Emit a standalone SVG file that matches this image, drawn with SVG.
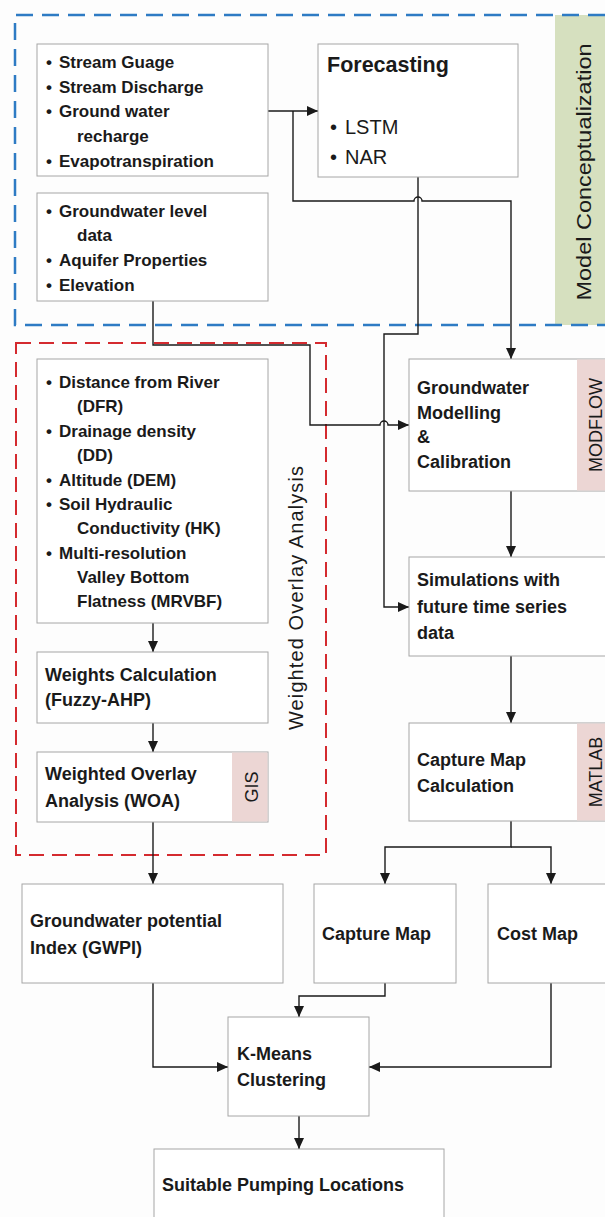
<svg xmlns="http://www.w3.org/2000/svg" width="605" height="1217" viewBox="0 0 605 1217">
<style>
.box{fill:#fff;stroke:#a6a6a6;stroke-width:1}
.t{font-family:"Liberation Sans",Arial,sans-serif;font-weight:bold;font-size:17px;fill:#1a1a1a}
.h{font-size:18px}
.r{font-family:"Liberation Sans",Arial,sans-serif;font-weight:normal;fill:#1a1a1a}
.tag{font-family:"Liberation Sans",Arial,sans-serif;font-size:18px;fill:#1a1a1a}
.conn{fill:none;stroke:#1a1a1a;stroke-width:1.4}
.arr{marker-end:url(#ah)}
</style>
<defs>
<marker id="ah" markerUnits="userSpaceOnUse" markerWidth="11" markerHeight="10" refX="11" refY="5" orient="auto" viewBox="0 0 11 10">
<path d="M0,0 L11,5 L0,10 z" fill="#1a1a1a"/>
</marker>
</defs>
<rect width="605" height="1217" fill="#fdfdfd"/>

<g id="model-conceptualization">
<rect x="555" y="15" width="50" height="310" fill="#d6e0bf"/>
<path d="M605,15 H15 V325 H605" fill="none" stroke="#2e7bc4" stroke-width="2.5" stroke-dasharray="17 9"/>
<text class="tag" style="font-size:21px" transform="translate(591,172) rotate(-90)" text-anchor="middle" textLength="257" lengthAdjust="spacingAndGlyphs">Model Conceptualization</text>
</g>

<g id="weighted-overlay-group">
<rect x="16" y="343" width="310" height="512" fill="none" stroke="#d42a2f" stroke-width="2" stroke-dasharray="15 8"/>
<text class="tag" style="font-size:20px" transform="translate(303,598) rotate(-90)" text-anchor="middle" textLength="264" lengthAdjust="spacing">Weighted Overlay Analysis</text>
</g>

<g id="connectors">
<path class="conn arr" d="M268,111 H318"/>
<path class="conn arr" d="M293,111 V201 H414 A4,4 0 0 1 422,201 H511 V359"/>
<path class="conn arr" d="M418,177 V334 H384 V607 H409"/>
<path class="conn arr" d="M153,301 V345 H310 V425 H380 A4,4 0 0 1 388,425 H409"/>
<path class="conn arr" d="M153,623 V652"/>
<path class="conn arr" d="M153,723 V752"/>
<path class="conn arr" d="M153,822 V884"/>
<path class="conn arr" d="M511,491 V557"/>
<path class="conn arr" d="M511,656 V723"/>
<path class="conn arr" d="M511,821 V847 H385 V884"/>
<path class="conn arr" d="M511,847 H551 V884"/>
<path class="conn arr" d="M153,983 V1067 H228"/>
<path class="conn arr" d="M385,983 V996 H299 V1017"/>
<path class="conn arr" d="M551,983 V1067 H369"/>
<path class="conn arr" d="M299,1116 V1149"/>
</g>

<g id="stream-data">
<rect class="box" x="37" y="44" width="231" height="132"/>
<text class="t"><tspan x="46" y="68">•</tspan><tspan x="59" y="68">Stream Guage</tspan><tspan x="46" y="93">•</tspan><tspan x="59" y="93">Stream Discharge</tspan><tspan x="46" y="117">•</tspan><tspan x="59" y="117">Ground water</tspan><tspan x="77" y="142">recharge</tspan><tspan x="46" y="167">•</tspan><tspan x="59" y="167">Evapotranspiration</tspan></text>
</g>

<g id="groundwater-data">
<rect class="box" x="37" y="193" width="231" height="108"/>
<text class="t"><tspan x="46" y="217">•</tspan><tspan x="59" y="217">Groundwater level</tspan><tspan x="77" y="241">data</tspan><tspan x="46" y="266">•</tspan><tspan x="59" y="266">Aquifer Properties</tspan><tspan x="46" y="291">•</tspan><tspan x="59" y="291">Elevation</tspan></text>
</g>

<g id="forecasting">
<rect class="box" x="318" y="44" width="200" height="133"/>
<text class="t" x="327" y="72" style="font-size:21.5px">Forecasting</text>
<text class="r" style="font-size:20px"><tspan x="330" y="134">•</tspan><tspan x="345" y="134">LSTM</tspan><tspan x="330" y="164">•</tspan><tspan x="345" y="164">NAR</tspan></text>
</g>

<g id="factors">
<rect class="box" x="37" y="359" width="231" height="264"/>
<text class="t"><tspan x="46" y="388">•</tspan><tspan x="59" y="388">Distance from River</tspan><tspan x="77" y="412">(DFR)</tspan><tspan x="46" y="437">•</tspan><tspan x="59" y="437">Drainage density</tspan><tspan x="77" y="461">(DD)</tspan><tspan x="46" y="486">•</tspan><tspan x="59" y="486">Altitude (DEM)</tspan><tspan x="46" y="510">•</tspan><tspan x="59" y="510">Soil Hydraulic</tspan><tspan x="77" y="534">Conductivity (HK)</tspan><tspan x="46" y="559">•</tspan><tspan x="59" y="559">Multi-resolution</tspan><tspan x="77" y="583">Valley Bottom</tspan><tspan x="77" y="607">Flatness (MRVBF)</tspan></text>
</g>

<g id="weights-calculation">
<rect class="box" x="37" y="652" width="231" height="71"/>
<text class="t h"><tspan x="45" y="681">Weights Calculation</tspan><tspan x="45" y="706">(Fuzzy-AHP)</tspan></text>
</g>

<g id="woa">
<rect class="box" x="37" y="752" width="231" height="70"/>
<rect x="232" y="752.5" width="35.5" height="69" fill="#ecd6d4"/>
<text class="t h"><tspan x="45" y="780">Weighted Overlay</tspan><tspan x="45" y="807">Analysis (WOA)</tspan></text>
<text class="tag" transform="translate(258,787) rotate(-90)" text-anchor="middle">GIS</text>
</g>

<g id="groundwater-modelling">
<rect class="box" x="409" y="359" width="197" height="132"/>
<rect x="577" y="359.5" width="28" height="131" fill="#ecd6d4"/>
<text class="t h"><tspan x="417" y="394">Groundwater</tspan><tspan x="417" y="419">Modelling</tspan><tspan x="417" y="443">&amp;</tspan><tspan x="417" y="468">Calibration</tspan></text>
<text class="tag" transform="translate(602,425) rotate(-90)" text-anchor="middle">MODFLOW</text>
</g>

<g id="simulations">
<rect class="box" x="409" y="557" width="197" height="99"/>
<text class="t h"><tspan x="417" y="586">Simulations with</tspan><tspan x="417" y="613">future time series</tspan><tspan x="417" y="639">data</tspan></text>
</g>

<g id="capture-map-calculation">
<rect class="box" x="409" y="723" width="197" height="98"/>
<rect x="577" y="723.5" width="28" height="97" fill="#ecd6d4"/>
<text class="t h"><tspan x="417" y="766">Capture Map</tspan><tspan x="417" y="792">Calculation</tspan></text>
<text class="tag" transform="translate(602,772) rotate(-90)" text-anchor="middle">MATLAB</text>
</g>

<g id="gwpi">
<rect class="box" x="22" y="884" width="261" height="99"/>
<text class="t h"><tspan x="30" y="927">Groundwater potential</tspan><tspan x="30" y="954">Index (GWPI)</tspan></text>
</g>

<g id="capture-map">
<rect class="box" x="314" y="884" width="142" height="99"/>
<text class="t h" x="322" y="940">Capture Map</text>
</g>

<g id="cost-map">
<rect class="box" x="488" y="884" width="120" height="99"/>
<text class="t h" x="497" y="940">Cost Map</text>
</g>

<g id="k-means">
<rect class="box" x="228" y="1017" width="141" height="99"/>
<text class="t h"><tspan x="237" y="1060">K-Means</tspan><tspan x="237" y="1086">Clustering</tspan></text>
</g>

<g id="suitable-locations">
<rect class="box" x="154" y="1149" width="290" height="80"/>
<text class="t h" x="162" y="1191">Suitable Pumping Locations</text>
</g>
</svg>
